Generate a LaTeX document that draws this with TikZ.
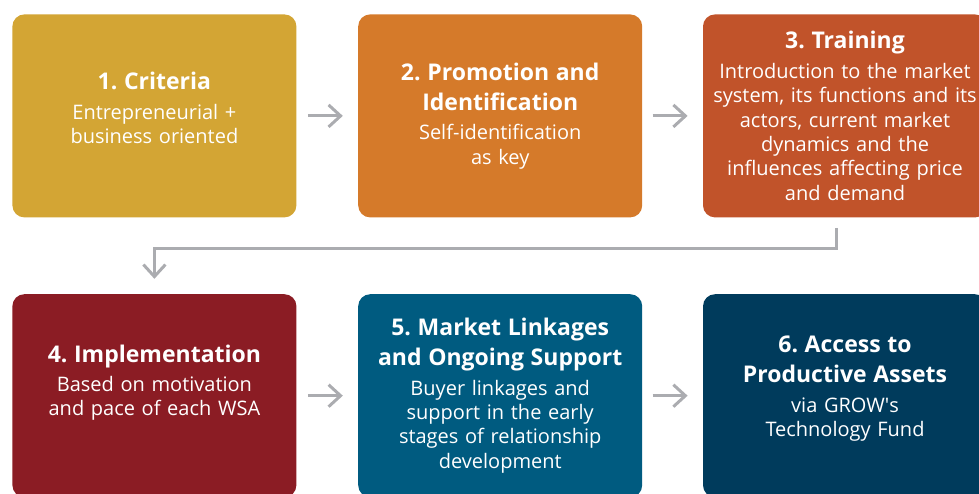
\documentclass[tikz,border=0pt]{standalone}
\usepackage{fontspec}
\setmainfont{Open Sans}
\usepackage{tikz}
\usetikzlibrary{arrows.meta, positioning, calc}

\definecolor{critgold}{HTML}{D3A534}
\definecolor{promorange}{HTML}{D57A2A}
\definecolor{trainrust}{HTML}{C1532A}
\definecolor{implred}{HTML}{8B1C24}
\definecolor{linkblue}{HTML}{005B80}
\definecolor{assetnavy}{HTML}{003B5C}
\definecolor{flowgray}{HTML}{ABACB0}

% bold heading of a step, set above its description
\newcommand{\steptitle}[1]{{\fontsize{11.5}{15}\selectfont\bfseries #1\par}\vspace{2.5pt}}
% extra room under short descriptions
\newcommand{\liftgap}[1]{\par\vspace{#1}}

\begin{document}
\frenchspacing
\begin{tikzpicture}[
    node distance=38pt and 30.5pt,
    stepbox/.style={rectangle, rounded corners=6pt, minimum width=142pt, minimum height=101.5pt, text width=139.5pt, inner sep=1.25pt, align=center, text=white, font=\fontsize{10}{12.2}\selectfont},
    lift/.style={execute at end node={\liftgap{#1}}},
    flow/.style={-{Straight Barb[length=6pt, width=11pt]}, line width=1.5pt, color=flowgray},
]
\useasboundingbox (0,0) rectangle (489.5pt,-246.5pt);
\clip (0,0) rectangle (489.5pt,-246.5pt);

% first row
\node[stepbox, lift=8pt, fill=critgold, anchor=north west] (crit) at (6pt,-7pt) {\steptitle{1. Criteria}Entrepreneurial +\\ business oriented};
\node[stepbox, fill=promorange, right=of crit] (promo) {\steptitle{2. Promotion and\\ Identification}Self-identification\\ as key};
\node[stepbox, fill=trainrust, right=30pt of promo] (train) {\steptitle{3. Training}Introduction to the market\\ system, its functions and its\\ actors, current market\\ dynamics and the\\ influences affecting price\\ and demand};

% second row
\node[stepbox, lift=13pt, fill=implred, below=of crit] (impl) {\steptitle{4. Implementation}Based on motivation\\ and pace of each WSA};
\node[stepbox, fill=linkblue, right=of impl] (link) {\steptitle{5. Market Linkages\\ and Ongoing Support}Buyer linkages and\\ support in the early\\ stages of relationship\\ development};
\node[stepbox, lift=7pt, fill=assetnavy, right=30pt of link] (asset) {\steptitle{6. Access to\\ Productive Assets}via GROW\textquotesingle s\\ Technology Fund};

\coordinate (drop) at ($(train.south)+(-4.25pt,-5pt)$);

\draw[flow, shorten <=5.5pt, shorten >=7.5pt] (crit) -- (promo);
\draw[flow, shorten <=5pt, shorten >=7.5pt] (promo) -- (train);
\draw[flow, shorten >=7.5pt] (drop) -- ++(0,-10.5pt) -| (impl);
\draw[flow, shorten <=5.5pt, shorten >=7.5pt] (impl) -- (link);
\draw[flow, shorten <=5pt, shorten >=7.5pt] (link) -- (asset);
\end{tikzpicture}
\end{document}
